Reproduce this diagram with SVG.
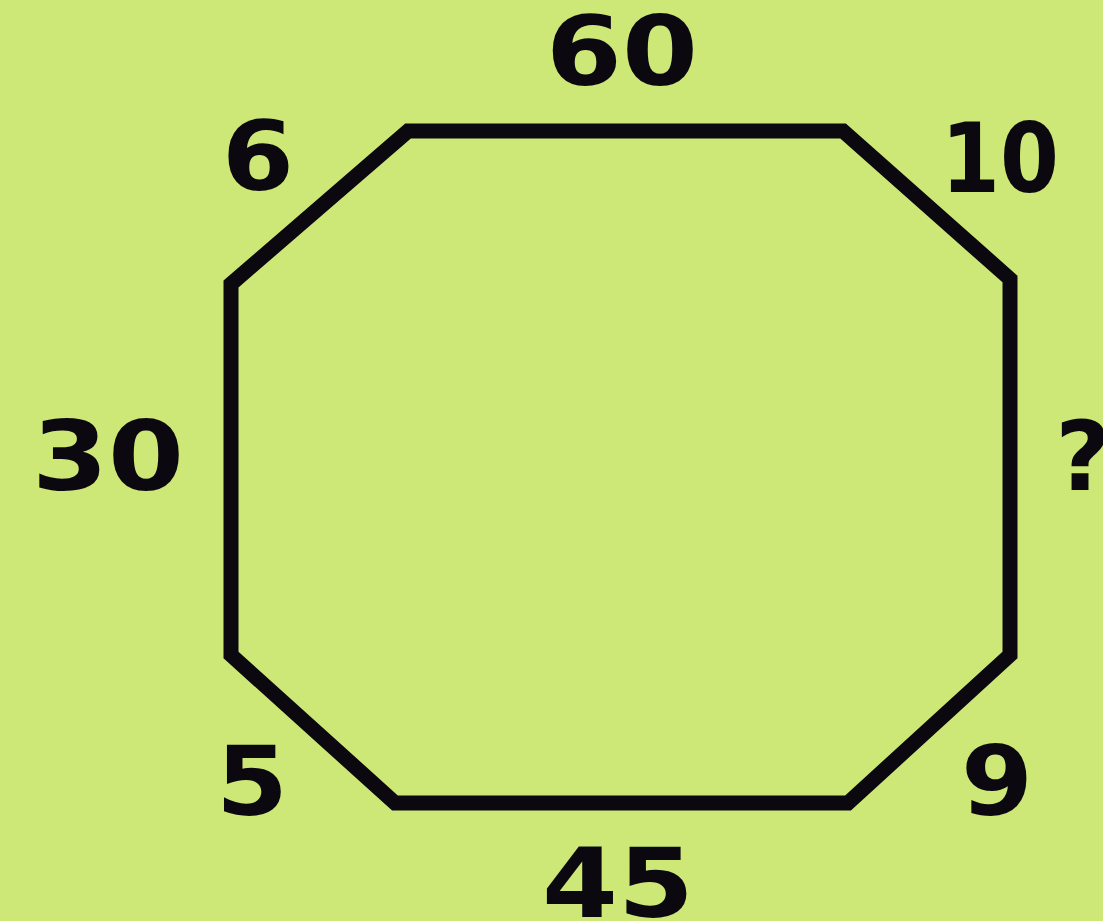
<svg xmlns="http://www.w3.org/2000/svg" width="1103" height="921" viewBox="0 0 1103 921">
<style>
.lbl{font-family:"DejaVu Sans","Liberation Sans",sans-serif;font-weight:bold;font-size:96px;fill:#0b0810;text-anchor:middle}
.oct{fill:none;stroke:#0b0810;stroke-width:15;stroke-linejoin:miter}
</style>
<rect width="1103" height="921" fill="#cee878"/>
<g id="octagon">
<polygon class="oct" points="408,131 843,131 1010,279 1010,655 848,803 395,803 231,655 231,284"/>
</g>
<g id="connectors"></g>
<g id="labels">
<text id="t60" class="lbl" x="622" y="85" textLength="152" lengthAdjust="spacingAndGlyphs">60</text>
<text id="t6" class="lbl" x="258" y="190" textLength="72" lengthAdjust="spacingAndGlyphs">6</text>
<text id="t10" class="lbl" x="1000" y="192" textLength="118" lengthAdjust="spacingAndGlyphs">10</text>
<text id="t30" class="lbl" x="108" y="490" textLength="152" lengthAdjust="spacingAndGlyphs">30</text>
<text id="tq" class="lbl" x="1083" y="490">?</text>
<text id="t5" class="lbl" x="252" y="815" textLength="72" lengthAdjust="spacingAndGlyphs">5</text>
<text id="t9" class="lbl" x="997" y="815" textLength="72" lengthAdjust="spacingAndGlyphs">9</text>
<text id="t45" class="lbl" x="618" y="917" textLength="152" lengthAdjust="spacingAndGlyphs">45</text>
</g>
</svg>
